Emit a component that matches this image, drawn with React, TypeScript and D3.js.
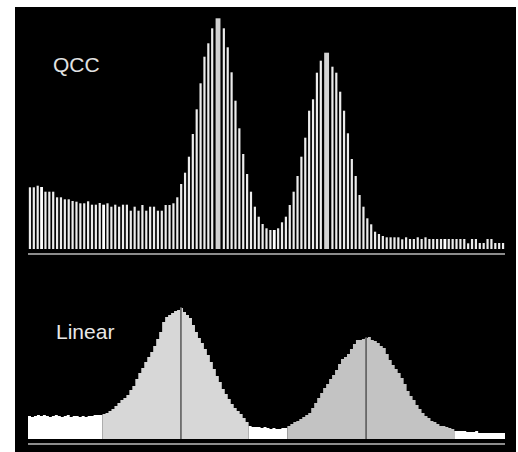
import React from "react";
import * as d3 from "d3";

// QCC histogram bar heights (one value per bin)
const qccValues: number[] = [
  61.7, 61.7, 63.3, 62, 57.3, 57.3, 57.3, 51.7, 51.7, 49.7,
  49.7, 48, 47.3, 45.7, 45.7, 47.7, 44.3, 44.3, 46, 44.3,
  45.7, 42.3, 44.3, 42.3, 44.3, 44.3, 38.3, 42.3, 38.3, 44,
  38.3, 42.3, 42.3, 38.3, 38.3, 44, 44, 45.7, 51.7, 65,
  76.3, 92.3, 115, 139.7, 165.7, 192.3, 205.7, 220.7, 230.7, 230.7,
  220.7, 201.7, 176.7, 148.3, 120.7, 95, 75, 57.3, 42.3, 32.3,
  25, 20.7, 19, 19, 20.7, 26.7, 32.3, 44, 57.3, 73,
  92.3, 111.3, 138.3, 149.7, 176.3, 188.3, 196.3, 196.3, 182.3, 176.3,
  157.3, 138.3, 115.7, 90, 73, 54, 42.3, 30.7, 24.7, 17.3,
  15, 13, 11.7, 11.7, 11.7, 11.7, 9.7, 11.7, 10, 10,
  11.7, 10, 11.7, 10, 10, 10, 10, 10, 10, 10,
  10, 10, 10, 5.7, 10, 10, 6, 6, 10, 10,
  6, 6, 6,
];
// mode bins drawn as merged, highlighted bars
const qccModes: number[][] = [[48, 49], [76, 77]];
const qccBright: number[] = [3, 19, 63, 107];

// Linear histogram heights
const linValues: number[] = [
  23, 22, 23, 24, 23, 24, 23, 22, 23, 24,
  23, 22, 23, 24, 22, 23, 23, 22, 23, 22,
  23, 23, 24, 24, 24, 25, 26, 28, 30, 33,
  36, 39, 41, 44, 49, 53, 60, 66, 71, 77,
  82, 87, 93, 100, 107, 117, 122, 124, 126, 128,
  129, 131, 127, 124, 121, 114, 107, 101, 96, 90,
  84, 77, 70, 63, 57, 50, 45, 40, 35, 31,
  28, 25, 21, 17, 13, 12, 12, 12, 11, 12,
  11, 10, 11, 10, 10, 11, 11, 13, 15, 17,
  18, 20, 22, 24, 26, 31, 36, 41, 46, 51,
  55, 60, 64, 69, 75, 80, 82, 85, 90, 95,
  99, 99, 100, 101, 102, 99, 98, 96, 93, 91,
  85, 79, 74, 70, 66, 61, 55, 48, 43, 39,
  34, 30, 26, 23, 21, 18, 17, 15, 13, 13,
  12, 11, 10, 8, 8, 8, 8, 7, 7, 7,
  8, 6, 6, 6, 6, 6, 6, 6, 6, 6,
];
// region boundaries (bin index where each region starts) and their fills
const linRegionStarts: number[] = [0, 25, 74, 87, 143, 160];
const linRegionFills: string[] = ["#ffffff", "#d7d7d7", "#ffffff", "#c3c3c3", "#ffffff"];
const linModes: number[] = [51.3, 113.4];

const labels = ["QCC", "Linear"];

export default function App() {
  const W = 518, H = 452;
  const x0 = 28, x1 = 505;

  const qx = d3.scaleLinear().domain([0, qccValues.length]).range([x0, x1]);
  const qy = d3.scaleLinear().domain([0, 240]).range([249, 9]);
  const step = qx(1) - qx(0);
  const barW = 2.2;

  const lx = d3.scaleLinear().domain([0, linValues.length]).range([x0, x1]);
  const ly = d3.scaleLinear().domain([0, 140]).range([439, 299]);

  const area = d3
    .area<[number, number]>()
    .x((d) => lx(d[0]))
    .y0(ly(0))
    .y1((d) => ly(d[1]))
    .curve(d3.curveStepAfter);

  const regions = linRegionFills.map((fill, r) => {
    const s = linRegionStarts[r];
    const e = linRegionStarts[r + 1];
    const pts: [number, number][] = [];
    for (let i = s; i < e; i++) pts.push([i, linValues[i]]);
    pts.push([e, linValues[e - 1]]);
    return { fill, d: area(pts) || "" };
  });

  const modeSet = new Set(qccModes.flat());

  return (
    <svg
      width={W}
      height={H}
      style={{ position: "absolute", left: 0, top: 0 }}
      xmlns="http://www.w3.org/2000/svg"
    >
      <rect x={0} y={0} width={W} height={H} fill="#ffffff" />
      <rect x={15} y={7} width={501} height={445} fill="#000000" />

      {/* QCC bars */}
      {qccValues.map((v, i) => {
        if (modeSet.has(i)) return null;
        const bright = qccBright.includes(i);
        const w = bright ? 2.8 : barW;
        const cx = qx(i) + step / 2;
        return (
          <rect
            key={"q" + i}
            x={cx - w / 2}
            y={qy(v)}
            width={w}
            height={qy(0) - qy(v)}
            fill={bright ? "#ffffff" : "#ececec"}
          />
        );
      })}
      {qccModes.map((m, k) => {
        const a = m[0], b = m[m.length - 1];
        const left = qx(a) + step / 2 - barW / 2 + 0.6;
        const right = qx(b) + step / 2 + barW / 2 - 0.6;
        const v = qccValues[a];
        return (
          <rect
            key={"m" + k}
            x={left}
            y={qy(v)}
            width={right - left}
            height={qy(0) - qy(v)}
            fill="#d2d2d2"
          />
        );
      })}
      <line x1={x0} x2={x1} y1={254} y2={254} stroke="#8c8c8c" strokeWidth={2} />

      {/* Linear histogram */}
      {regions.map((r, k) => (
        <path key={"r" + k} d={r.d} fill={r.fill} />
      ))}
      {linModes.map((m, k) => (
        <line
          key={"lm" + k}
          x1={lx(m)}
          x2={lx(m)}
          y1={ly(0)}
          y2={ly(linValues[Math.floor(m)] + 1)}
          stroke="#555555"
          strokeWidth={1.5}
        />
      ))}
      <line x1={x0} x2={x1} y1={444} y2={444} stroke="#8c8c8c" strokeWidth={2} />

      <text
        x={53}
        y={72}
        fill="#e2e2e2"
        fontFamily="Liberation Sans, Arial, sans-serif"
        fontSize={21}
      >
        {labels[0]}
      </text>
      <text
        x={56}
        y={339}
        fill="#e8e8e8"
        fontFamily="Liberation Sans, Arial, sans-serif"
        fontSize={21}
      >
        {labels[1]}
      </text>
    </svg>
  );
}
